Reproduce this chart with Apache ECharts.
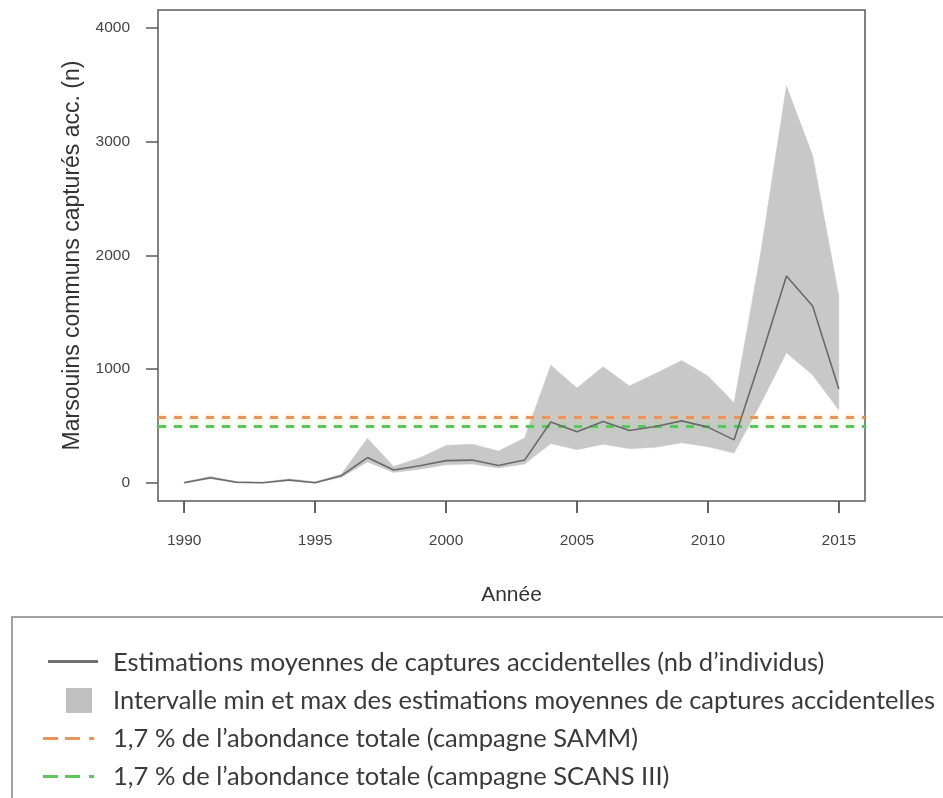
<!DOCTYPE html>
<html>
<head>
<meta charset="utf-8">
<script src="https://cdn.jsdelivr.net/npm/echarts@6/dist/echarts.min.js"></script>
<style>
  html, body { margin: 0; padding: 0; background: #ffffff; }
  #chart { width: 943px; height: 798px; }
</style>
</head>
<body>
<div id="chart"></div>
<script>
// Années de la série
const years = [1990, 1991, 1992, 1993, 1994, 1995, 1996, 1997, 1998, 1999, 2000, 2001, 2002,
               2003, 2004, 2005, 2006, 2007, 2008, 2009, 2010, 2011, 2012, 2013, 2014, 2015];
// Estimations moyennes de captures accidentelles (nombre d'individus)
const meanCatch = [0, 45, 5, 0, 25, 0, 62, 222, 112, 150, 195, 200, 152,
                   200, 535, 450, 540, 460, 495, 545, 490, 378, 1080, 1820, 1555, 825];
// Bornes min et max des estimations moyennes
const minCatch = [0, 35, 0, 0, 15, 0, 48, 184, 90, 120, 158, 165, 130,
                  165, 345, 292, 340, 300, 312, 352, 318, 262, 690, 1145, 948, 640];
const maxCatch = [10, 55, 12, 5, 35, 10, 76, 392, 144, 220, 328, 340, 280,
                  395, 1035, 835, 1022, 852, 962, 1077, 940, 705, 2000, 3492, 2880, 1645];
// Seuils : 1,7 % de l'abondance totale
const thresholdSAMM = 575;
const thresholdSCANS = 495;
// Graduations et bornes des axes
const xTicks = [1990, 1995, 2000, 2005, 2010, 2015];
const yTicks = [0, 1000, 2000, 3000, 4000];
const xRange = [1989, 2016];
const yRange = [-160, 4160];

const NAME_MEAN = 'Estimations moyennes de captures accidentelles (nb d’individus)';
const NAME_BAND = 'Intervalle min et max des estimations moyennes de captures accidentelles';
const NAME_SAMM = '1,7 % de l’abondance totale (campagne SAMM)';
const NAME_SCANS = '1,7 % de l’abondance totale (campagne SCANS III)';

const AXIS_COLOR = '#5a5a5a';
const BAND_COLOR = '#c8c8c8';
const MEAN_COLOR = '#6a6a6a';
const SAMM_COLOR = '#e6955f';
const SCANS_COLOR = '#5ec65e';
const SANS = 'Liberation Sans, Arial, sans-serif';
const TICK_LEN = 12;

const plainNumber = v => String(v);

const chart = echarts.init(document.getElementById('chart'), null, { renderer: 'canvas' });

const legendFrame = {
  id: 'legend-frame', type: 'rect', z: -1, silent: true,
  shape: { x: 12, y: 617, width: 1000, height: 300 },
  style: { fill: 'none', stroke: '#a0a0a0', lineWidth: 2 }
};

const option = {
  backgroundColor: '#ffffff',
  animation: false,
  grid: {
    left: 158, right: 78, top: 10, bottom: 297,
    show: true, borderColor: AXIS_COLOR, borderWidth: 1.5, backgroundColor: 'transparent'
  },
  xAxis: {
    type: 'value',
    min: xRange[0], max: xRange[1],
    axisLine: { show: false, onZero: false },
    splitLine: { show: false },
    axisTick: { show: true, length: TICK_LEN, customValues: xTicks, lineStyle: { color: AXIS_COLOR, width: 1.5 } },
    axisLabel: {
      customValues: xTicks, margin: 32, formatter: plainNumber,
      fontFamily: SANS, fontSize: 15.5, color: '#444'
    },
    name: 'Année', nameLocation: 'middle', nameGap: 84,
    nameTextStyle: { fontFamily: SANS, fontSize: 21, color: '#333' }
  },
  yAxis: {
    type: 'value',
    min: yRange[0], max: yRange[1],
    axisLine: { show: false, onZero: false },
    splitLine: { show: false },
    axisTick: { show: true, length: TICK_LEN, customValues: yTicks, lineStyle: { color: AXIS_COLOR, width: 1.5 } },
    axisLabel: {
      customValues: yTicks, margin: 28, formatter: plainNumber,
      fontFamily: SANS, fontSize: 15.5, color: '#444'
    },
    name: 'Marsouins communs capturés acc. (n)', nameLocation: 'middle', nameGap: 74, nameRotate: 90,
    nameTextStyle: { fontFamily: SANS, fontSize: 23, color: '#333' }
  },
  legend: {
    orient: 'vertical',
    left: 35, top: 644.5,
    itemWidth: 68, itemHeight: 25, itemGap: 12,
    selectedMode: false,
    itemStyle: { borderWidth: 0 },
    textStyle: { fontFamily: 'Lato, Open Sans, sans-serif', fontSize: 25.5, color: '#3a3a3a', lineHeight: 25 },
    data: [
      { name: NAME_MEAN, icon: 'path://M0,0M68,25M8,10h50v3h-50z', itemStyle: { color: '#707070' } },
      { name: NAME_BAND, icon: 'path://M0,0M68,25M26,0h26v25h-26z', itemStyle: { color: '#c0c0c0' } },
      { name: NAME_SAMM, icon: 'path://M0,0M68,25M3,11h15v3h-15zM25,11h15v3h-15zM49,11h5v3h-5z', itemStyle: { color: SAMM_COLOR } },
      { name: NAME_SCANS, icon: 'path://M0,0M68,25M3,11h15v3h-15zM25,11h15v3h-15zM49,11h5v3h-5z', itemStyle: { color: SCANS_COLOR } }
    ]
  },
  graphic: [legendFrame],
  series: [
    {
      name: NAME_BAND,
      type: 'custom',
      color: BAND_COLOR,
      z: 1,
      encode: { x: 0, y: [1, 2] },
      data: years.map((y, i) => [y, minCatch[i], maxCatch[i]]),
      renderItem: function (params, api) {
        if (params.dataIndex !== 0) return null;
        const upper = years.map((y, i) => api.coord([y, maxCatch[i]]));
        const lower = years.map((y, i) => api.coord([y, minCatch[i]])).reverse();
        return {
          type: 'polygon',
          shape: { points: upper.concat(lower) },
          style: { fill: BAND_COLOR, stroke: BAND_COLOR, lineWidth: 0.5 }
        };
      }
    },
    {
      name: NAME_SAMM,
      type: 'line',
      color: SAMM_COLOR,
      z: 3,
      symbol: 'none',
      data: [[xRange[0], thresholdSAMM], [xRange[1], thresholdSAMM]],
      lineStyle: { color: SAMM_COLOR, width: 3, type: [8, 8], shadowColor: 'rgba(250,205,100,0.8)', shadowBlur: 4 }
    },
    {
      name: NAME_SCANS,
      type: 'line',
      color: SCANS_COLOR,
      z: 3,
      symbol: 'none',
      data: [[xRange[0], thresholdSCANS], [xRange[1], thresholdSCANS]],
      lineStyle: { color: SCANS_COLOR, width: 3, type: [8, 8], shadowColor: 'rgba(140,228,140,0.8)', shadowBlur: 5 }
    },
    {
      name: NAME_MEAN,
      type: 'line',
      color: MEAN_COLOR,
      z: 4,
      symbol: 'none',
      data: years.map((y, i) => [y, meanCatch[i]]),
      lineStyle: { color: MEAN_COLOR, width: 1.6 }
    }
  ]
};

chart.setOption(option);

// Year tick marks under the frame, placed through the x scale
const yearTicks = xTicks.map(function (v, i) {
  const p = chart.convertToPixel({ gridIndex: 0 }, [v, yRange[0]]);
  return {
    id: 'year-tick-' + i, type: 'line', silent: true, z: 10,
    shape: { x1: p[0], y1: p[1], x2: p[0], y2: p[1] + TICK_LEN },
    style: { stroke: AXIS_COLOR, lineWidth: 1.5 }
  };
});
chart.setOption({ graphic: [legendFrame].concat(yearTicks) });
</script>
</body>
</html>
